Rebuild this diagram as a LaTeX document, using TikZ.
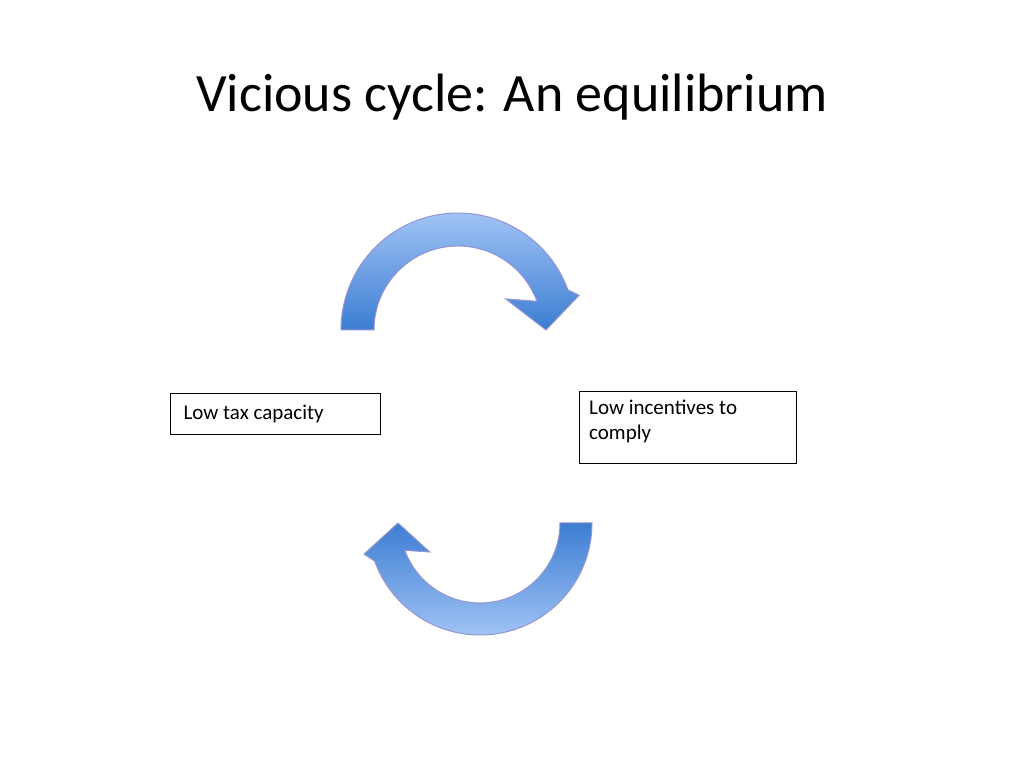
\documentclass[tikz,border=0pt]{standalone}
\usepackage{fontspec}
\setmainfont{Carlito}
\begin{document}
\begin{tikzpicture}[x=1pt,y=1pt,
  lbl/.style={draw=black,line width=0.8pt,font=\fontsize{21}{25}\selectfont,align=left,anchor=north west,inner sep=0pt},
  arr/.style={draw=blue!40!gray!60,line width=1pt}]
\useasboundingbox (0,0) rectangle (1024,768);
\node[font=\fontsize{54}{60}\selectfont] (title) at (512,671) {Vicious cycle: An equilibrium};
\draw[lbl] (170,334) rectangle (380,375);
\node[font=\fontsize{21}{25}\selectfont,anchor=west] (a) at (180,354) {Low tax capacity};
\draw[lbl] (579,305) rectangle (796,377);
\node[font=\fontsize{21}{25}\selectfont,align=left,anchor=north west,inner sep=0pt] (b) at (589,368) {Low incentives to\\comply};
% top arrow
\shade[arr,top color={rgb,255:red,160;green,195;blue,245},bottom color={rgb,255:red,60;green,125;blue,210}]
 ([shift={(458,438)}]180:117) arc[start angle=180,end angle=20,radius=117]
 -- ([shift={(458,438)}]16:126) -- ([shift={(458,438)}]0:88) -- ([shift={(458,438)}]33:57)
 -- ([shift={(458,438)}]20:84) arc[start angle=20,end angle=180,radius=84] -- cycle;
% bottom arrow
\shade[arr,bottom color={rgb,255:red,160;green,195;blue,245},top color={rgb,255:red,60;green,125;blue,210}]
 ([shift={(480,245)}]0:112) arc[start angle=0,end angle=-160,radius=112]
 -- ([shift={(480,245)}]195:120) -- ([shift={(480,245)}]180:82) -- ([shift={(480,245)}]210:58)
 -- ([shift={(480,245)}]-160:80) arc[start angle=-160,end angle=0,radius=80] -- cycle;
\end{tikzpicture}
\end{document}
